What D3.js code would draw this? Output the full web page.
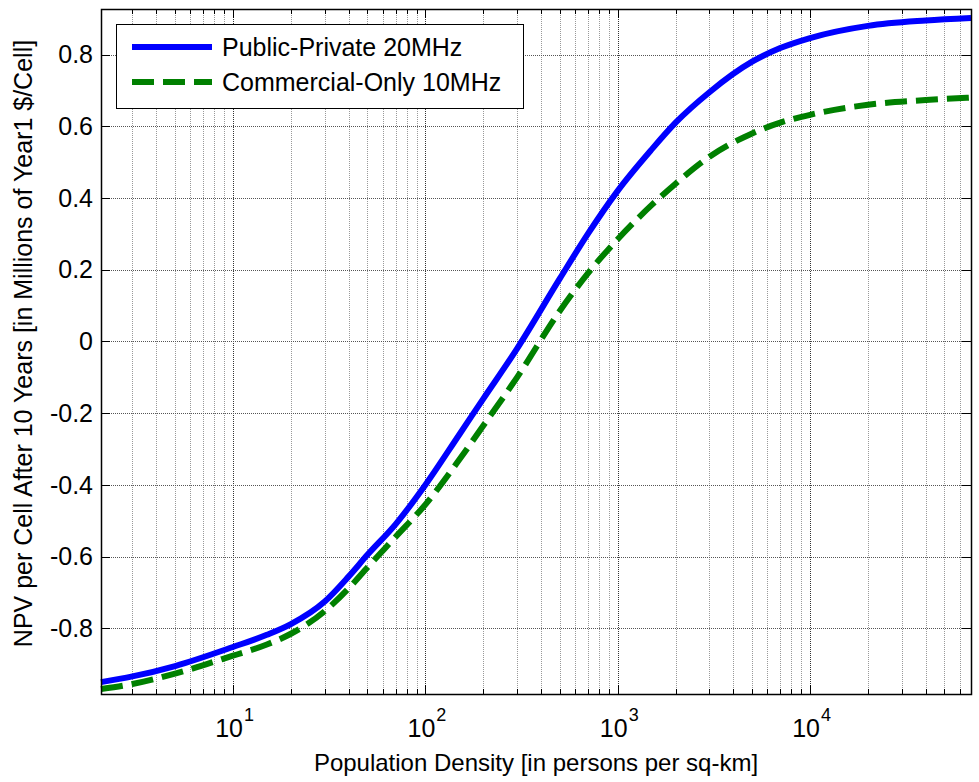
<!DOCTYPE html>
<html>
<head>
<meta charset="utf-8">
<script src="https://cdn.jsdelivr.net/npm/d3@7"></script>
<style>
  body { margin: 0; background: #fff; }
  text { font-family: "Liberation Sans", Arial, sans-serif; fill: #000; }
</style>
</head>
<body>
<div id="chart"></div>
<script>
// population density (persons per sq-km) and NPV values
var density = [2.06, 3, 5, 10, 15, 20, 30, 40, 50, 70, 100, 150, 200, 300, 500, 700, 1000, 1500, 2000, 3000, 5000, 7000, 10000, 20000, 40000, 68700];
var publicPrivate = [-0.950, -0.934, -0.905, -0.852, -0.818, -0.788, -0.725, -0.655, -0.595, -0.510, -0.400, -0.260, -0.160, -0.020, 0.175, 0.300, 0.420, 0.535, 0.610, 0.695, 0.780, 0.818, 0.846, 0.880, 0.895, 0.902];
var commercialOnly = [-0.969, -0.955, -0.926, -0.876, -0.845, -0.815, -0.752, -0.688, -0.630, -0.545, -0.455, -0.330, -0.235, -0.100, 0.085, 0.190, 0.285, 0.380, 0.440, 0.515, 0.580, 0.610, 0.632, 0.660, 0.673, 0.680];
var yTicks = [-0.8, -0.6, -0.4, -0.2, 0, 0.2, 0.4, 0.6, 0.8];
var xMajor = [10, 100, 1000, 10000];
var legendNames = ['Public-Private 20MHz', 'Commercial-Only 10MHz'];

var width = 979, height = 782;
var margin = { top: 9, right: 8, bottom: 88, left: 101 };

var svg = d3.select('#chart').append('svg')
    .attr('width', width)
    .attr('height', height);

var x = d3.scaleLog()
    .domain([2.06, 68700])
    .range([margin.left, width - margin.right]);

var y = d3.scaleLinear()
    .domain([-0.983, 0.927])
    .range([height - margin.bottom, margin.top]);

var x0 = x.range()[0], x1 = x.range()[1];
var y0 = y.range()[0], y1 = y.range()[1];

// minor decades 2..9
var xMinor = [];
[1, 10, 100, 1000, 10000].forEach(function (d) {
    for (var k = 2; k <= 9; k++) {
        var v = d * k;
        if (v > x.domain()[0] && v < x.domain()[1]) xMinor.push(v);
    }
});

var grid = svg.append('g').attr('class', 'grid');

grid.selectAll('.vminor')
    .data(xMinor)
    .enter().append('line')
    .attr('x1', function (d) { return Math.round(x(d)) + 0.5; })
    .attr('x2', function (d) { return Math.round(x(d)) + 0.5; })
    .attr('y1', y1).attr('y2', y0)
    .attr('stroke', '#999')
    .attr('stroke-dasharray', '1,1');

grid.selectAll('.vmajor')
    .data(xMajor)
    .enter().append('line')
    .attr('x1', function (d) { return Math.round(x(d)) + 0.5; })
    .attr('x2', function (d) { return Math.round(x(d)) + 0.5; })
    .attr('y1', y1).attr('y2', y0)
    .attr('stroke', '#333')
    .attr('stroke-dasharray', '1,1');

grid.selectAll('.hgrid')
    .data(yTicks)
    .enter().append('line')
    .attr('x1', x0).attr('x2', x1)
    .attr('y1', function (d) { return Math.round(y(d)) + 0.5; })
    .attr('y2', function (d) { return Math.round(y(d)) + 0.5; })
    .attr('stroke', '#555')
    .attr('stroke-dasharray', '1,1');

// curves
var line = d3.line()
    .x(function (d) { return x(d[0]); })
    .y(function (d) { return y(d[1]); })
    .curve(d3.curveMonotoneX);

svg.append('path')
    .datum(d3.zip(density, publicPrivate))
    .attr('d', line)
    .attr('fill', 'none')
    .attr('stroke', '#0000ff')
    .attr('stroke-width', 6);

svg.append('path')
    .datum(d3.zip(density, commercialOnly))
    .attr('d', line)
    .attr('fill', 'none')
    .attr('stroke', '#008000')
    .attr('stroke-width', 6)
    .attr('stroke-dasharray', '22,9');

// axes box and inward ticks
var ticks = svg.append('g').attr('stroke', '#000').attr('stroke-width', 1);

ticks.selectAll('.tminor')
    .data(xMinor)
    .enter().append('path')
    .attr('d', function (d) {
        var px = Math.round(x(d)) + 0.5;
        return 'M' + px + ',' + y0 + 'V' + (y0 - 5) + 'M' + px + ',' + y1 + 'V' + (y1 + 5);
    });

ticks.selectAll('.tmajor')
    .data(xMajor)
    .enter().append('path')
    .attr('d', function (d) {
        var px = Math.round(x(d)) + 0.5;
        return 'M' + px + ',' + y0 + 'V' + (y0 - 9) + 'M' + px + ',' + y1 + 'V' + (y1 + 9);
    });

ticks.selectAll('.ty')
    .data(yTicks)
    .enter().append('path')
    .attr('d', function (d) {
        var py = Math.round(y(d)) + 0.5;
        return 'M' + x0 + ',' + py + 'H' + (x0 + 9) + 'M' + x1 + ',' + py + 'H' + (x1 - 9);
    });

svg.append('rect')
    .attr('x', x0 + 0.5).attr('y', y1 + 0.5)
    .attr('width', x1 - x0).attr('height', y0 - y1)
    .attr('fill', 'none')
    .attr('stroke', '#000')
    .attr('stroke-width', 1.5);

// tick labels
svg.selectAll('.ylab')
    .data(yTicks)
    .enter().append('text')
    .attr('x', x0 - 8)
    .attr('y', function (d) { return y(d); })
    .attr('dy', '0.35em')
    .attr('text-anchor', 'end')
    .style('font-size', '25px')
    .text(function (d) { return String(Math.round(d * 10) / 10); });

var xl = svg.selectAll('.xlab')
    .data(xMajor)
    .enter().append('g');

xl.append('text')
    .attr('x', function (d) { return x(d) + 10; })
    .attr('y', y0 + 43)
    .attr('text-anchor', 'end')
    .style('font-size', '25px')
    .text('10');

xl.append('text')
    .attr('x', function (d) { return x(d) + 11; })
    .attr('y', y0 + 27)
    .style('font-size', '18px')
    .text(function (d) { return Math.round(Math.log10(d)); });

// axis titles
svg.append('text')
    .attr('x', (x0 + x1) / 2)
    .attr('y', 771)
    .attr('text-anchor', 'middle')
    .style('font-size', '24px')
    .text('Population Density [in persons per sq-km]');

svg.append('text')
    .attr('transform', 'translate(32,' + ((y0 + y1) / 2 - 8) + ') rotate(-90)')
    .attr('text-anchor', 'middle')
    .style('font-size', '25px')
    .text('NPV per Cell After 10 Years [in Millions of Year1 $/Cell]');

// legend
var legend = svg.append('g');

legend.append('rect')
    .attr('x', 116.5).attr('y', 24.5)
    .attr('width', 407).attr('height', 84)
    .attr('fill', '#fff')
    .attr('stroke', '#000')
    .attr('stroke-width', 1);

var colors = ['#0000ff', '#008000'];
var dashes = [null, '22,9'];

legendNames.forEach(function (name, i) {
    var ly = 47 + i * 35;
    legend.append('line')
        .attr('x1', 132).attr('x2', 212)
        .attr('y1', ly).attr('y2', ly)
        .attr('stroke', colors[i])
        .attr('stroke-width', 6)
        .attr('stroke-dasharray', dashes[i]);
    legend.append('text')
        .attr('x', 222)
        .attr('y', ly + 9)
        .style('font-size', '25px')
        .text(name);
});
</script>
</body>
</html>
